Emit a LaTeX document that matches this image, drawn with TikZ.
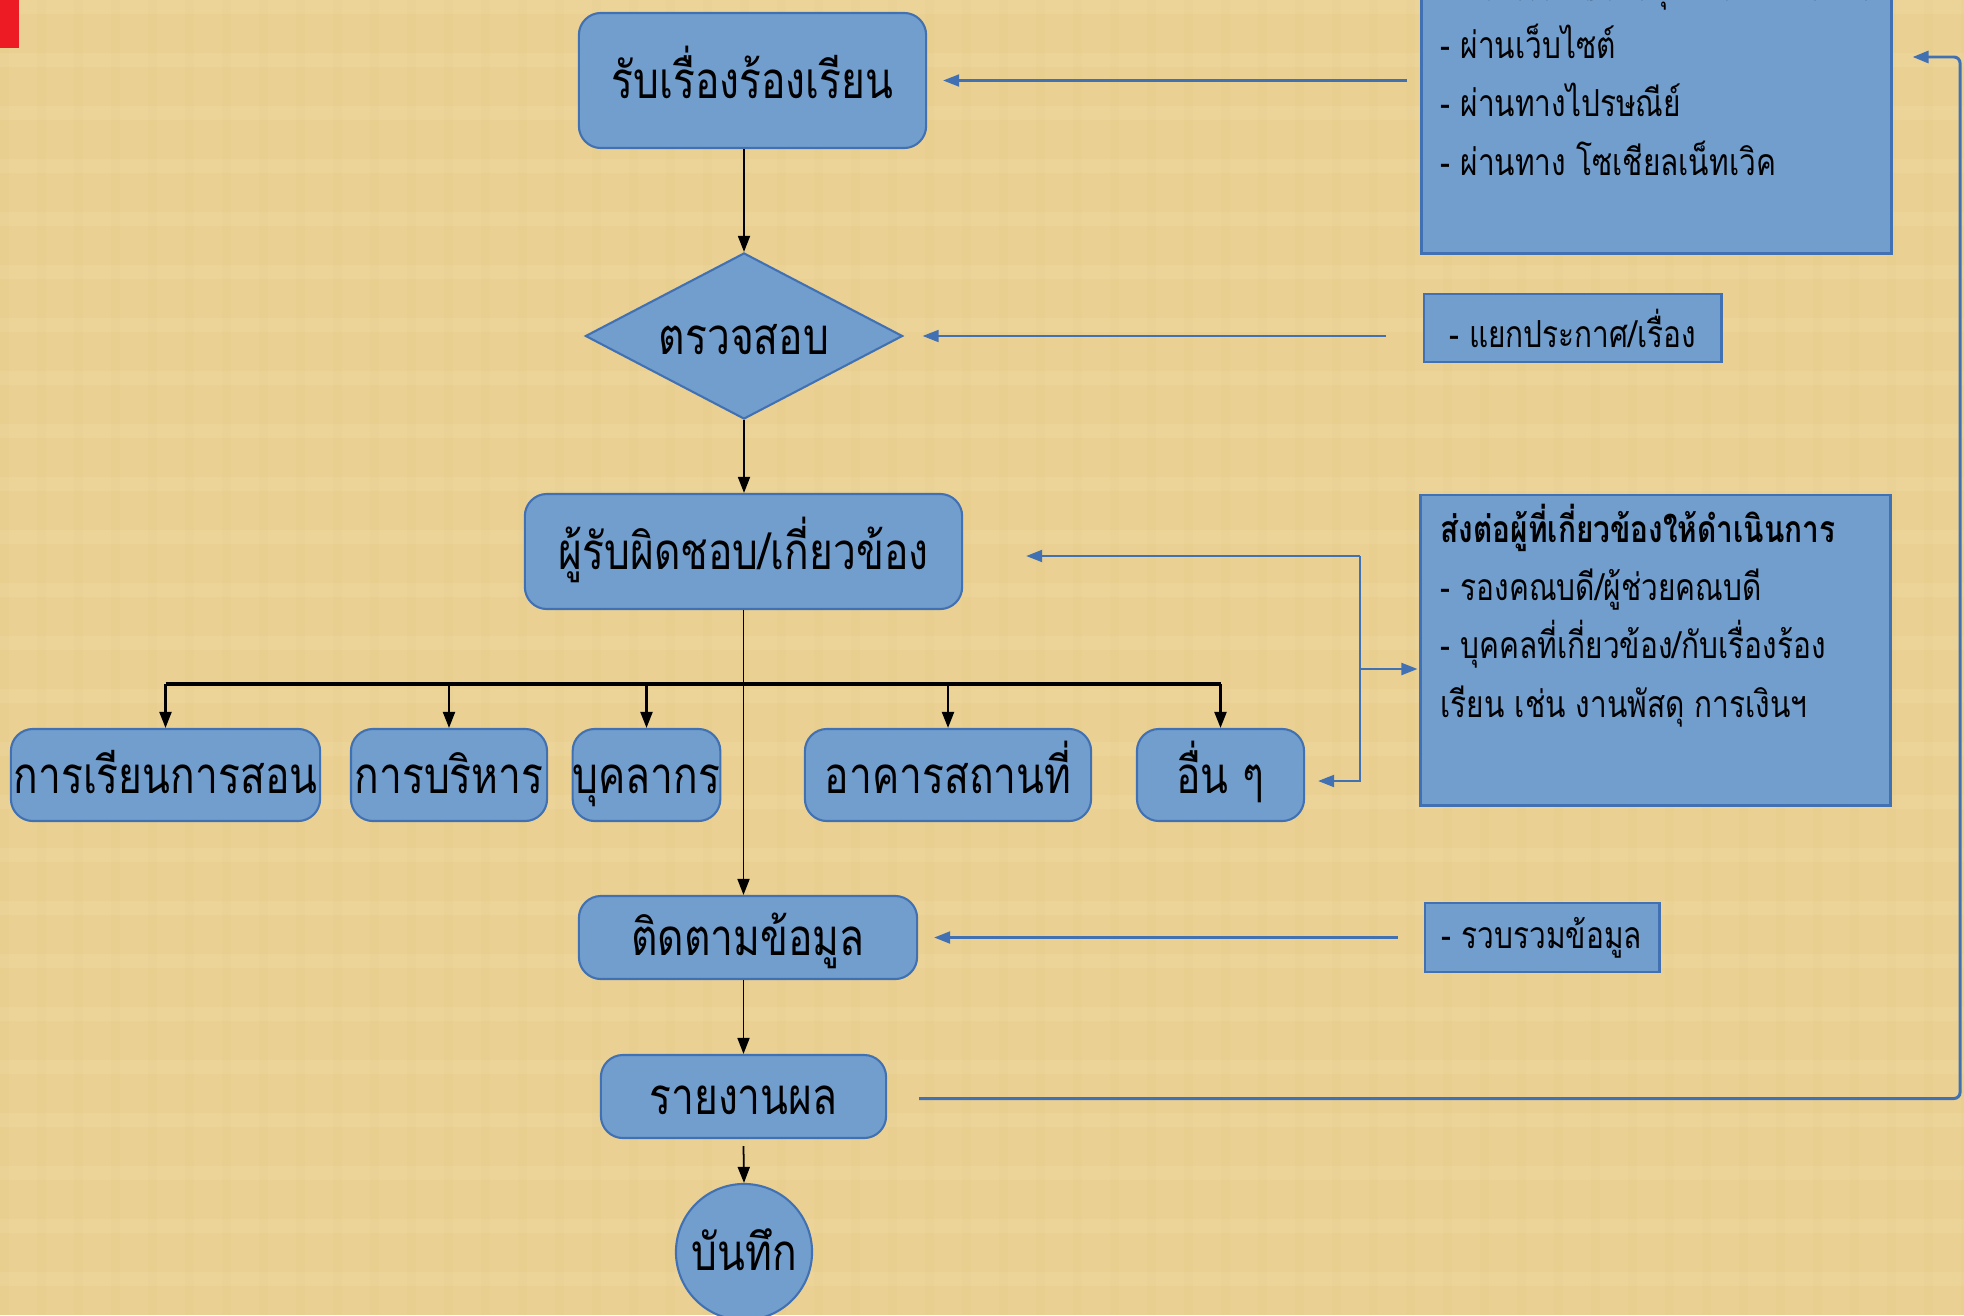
\documentclass[tikz,border=0pt]{standalone}
\usepackage{fontspec}
\newfontfamily\thaifont[Script=Thai,FakeStretch=0.8]{Loma}
\usetikzlibrary{shapes.geometric,arrows.meta,calc}

\definecolor{paper}{RGB}{234,209,147}
\definecolor{paperdark}{RGB}{214,184,112}
\definecolor{paperlight}{RGB}{246,228,180}
\definecolor{boxblue}{RGB}{114,158,206}
\definecolor{edgeblue}{RGB}{65,113,178}
\definecolor{flagred}{RGB}{237,28,36}

\begin{document}
\begin{tikzpicture}[x=0.01cm, y=-0.01cm,
        >={Triangle[length=0.16cm,width=0.12cm]},
        bigtext/.style={font=\thaifont\fontsize{14.5}{16}\selectfont,
            text height=0.4cm, text depth=0.04cm},
        sidetext/.style={font=\thaifont\fontsize{10.6}{16.5}\selectfont},
        stepbox/.style={rectangle, rounded corners=0.22cm, draw=edgeblue,
            fill=boxblue, line width=0.6pt, inner sep=0pt, bigtext},
        infobox/.style={rectangle, draw=edgeblue, fill=boxblue,
            line width=0.8pt, inner sep=0pt, sidetext},
        barrow/.style={->, draw=edgeblue, line width=0.6pt}]

    \fill[paper] (0,0) rectangle (1964,1315);
    \useasboundingbox (0,0) rectangle (1964,1315);
    % canvas texture
    \foreach \x in {0,37,...,1964}
        \fill[paperdark, opacity=0.09] (\x,0) rectangle ++(9,1315);
    \foreach \y in {0,53,...,1315}
        \fill[paperlight, opacity=0.2] (0,\y) rectangle ++(1964,14);
    \fill[flagred] (0,0) rectangle (19,48);

    % main column
    \node[stepbox, minimum width=3.47cm, minimum height=1.35cm] (recv) at (752.5,80.5) {รับเรื่องร้องเรียน};
    \node[diamond, draw=edgeblue, fill=boxblue, line width=0.6pt, inner sep=0pt, aspect=1.9,
        minimum width=3.17cm, minimum height=1.66cm, bigtext] (chk) at (744,336) {ตรวจสอบ};
    \node[stepbox, minimum width=4.37cm, minimum height=1.15cm] (resp) at (743.5,551.5) {ผู้รับผิดชอบ/เกี่ยวข้อง};
    \node[stepbox, minimum width=3.38cm, minimum height=0.83cm] (track) at (748,937.5) {ติดตามข้อมูล};
    \node[stepbox, minimum width=2.85cm, minimum height=0.83cm] (report) at (743.5,1096.5) {รายงานผล};
    \node[circle, draw=edgeblue, fill=boxblue, line width=0.6pt, inner sep=0pt,
        minimum size=1.36cm, bigtext] (save) at (744,1252) {บันทึก};

    % branches
    \node[stepbox, minimum width=3.09cm, minimum height=0.92cm] (b1) at (165.5,775) {การเรียนการสอน};
    \node[stepbox, minimum width=1.96cm, minimum height=0.92cm] (b2) at (449,775) {การบริหาร};
    \node[stepbox, minimum width=1.35cm, minimum height=0.92cm] (b3) at (646.5,775) {บุคลากร};
    \node[stepbox, minimum width=2.86cm, minimum height=0.92cm] (b4) at (948,775) {อาคารสถานที่};
    \node[stepbox, minimum width=1.67cm, minimum height=0.92cm] (b5) at (1220.5,775) {อื่น ๆ};

    % notes on the right
    \node[infobox, minimum width=4.69cm, minimum height=3.13cm] (chan) at (1656.5,96.5) {};
    \node[sidetext, anchor=base west, align=left, inner sep=0pt] (chantext) at (1440,175)
        {ข้อร้องเรียน/ร้องทุกข์ จากช่องทาง\\- ผ่านเว็บไซต์\\- ผ่านทางไปรษณีย์\\- ผ่านทาง โซเชียลเน็ทเวิค};
    \node[infobox, minimum width=2.97cm, minimum height=0.68cm] (sort) at (1572.5,328) {- แยกประกาศ/เรื่อง};
    \node[infobox, minimum width=4.69cm, minimum height=3.10cm] (fwd) at (1655.5,650) {};
    \node[sidetext, anchor=base west, align=left, inner sep=0pt] (fwdtext) at (1440,717)
        {\textbf{ส่งต่อผู้ที่เกี่ยวข้องให้ดำเนินการ}\\- รองคณบดี/ผู้ช่วยคณบดี\\- บุคคลที่เกี่ยวข้อง/กับเรื่องร้อง\\เรียน เช่น งานพัสดุ การเงินฯ};
    \node[infobox, minimum width=2.34cm, minimum height=0.69cm] (collect) at (1542,937.5) {- รวบรวมข้อมูล};

    % black flow
    \draw[->, line width=0.5pt] (recv.south -| chk.north) -- (chk.north);
    \draw[->, line width=0.5pt] (chk.south) -- (resp.north -| chk.south);
    \draw[->, line width=0.5pt] (resp.south) -- (resp.south |- track.north);
    \coordinate (bus) at (744,684);
    \draw[line width=0.9pt] (bus -| b1.north) -- (bus -| b5.north);
    \foreach \b in {b1,b2,b3,b4,b5}
        \draw[->, line width=0.6pt] (bus -| \b.north) -- (\b.north);
    \draw[->, line width=0.5pt] (track.south -| resp.south) -- (report.north -| resp.south);
    \draw[->, line width=0.5pt] ([yshift=-0.07cm]report.south) -- (save.north);

    % blue arrows
    \draw[barrow] ($(chan.west |- recv.east)+(-13,0)$) -- ($(recv.east)+(16,0)$);
    \draw[barrow] ($(sort.west |- chk.east)+(-37,0)$) -- ($(chk.east)+(19,0)$);
    \draw[barrow] ($(collect.west |- track.east)+(-26,0)$) -- ($(track.east)+(16,0)$);
    \coordinate (railtop) at (1360,556);
    \coordinate (railmid) at (1360,669);
    \coordinate (railbot) at (1360,781);
    \draw[barrow] (railtop) -- ($(resp.east |- railtop)+(63,0)$);
    \draw[barrow] (railtop) -- (railbot) -- ($(b5.east |- railbot)+(13,0)$);
    \draw[barrow] (railmid) -- ($(fwd.west |- railmid)+(-2,0)$);
    \coordinate (loop) at (1960,57);
    \draw[barrow, line width=0.85pt, rounded corners=0.06cm] ($(report.east)+(32,2)$) -| (loop)
        -- ($(chan.east |- loop)+(20,0)$);

\end{tikzpicture}
\end{document}
